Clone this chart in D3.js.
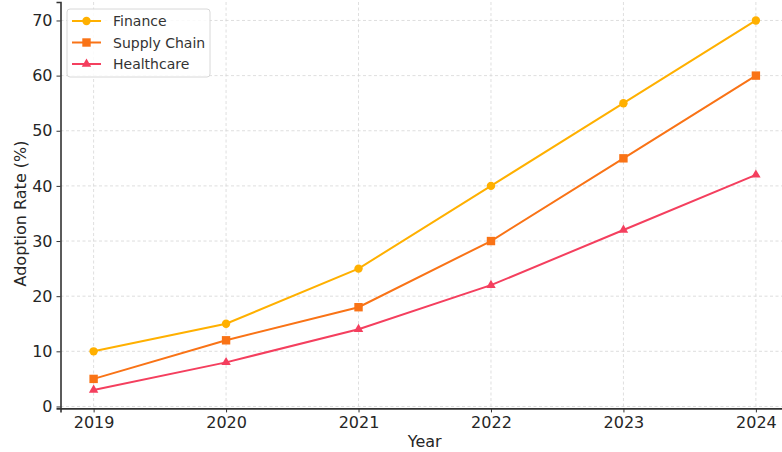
<!DOCTYPE html>
<html>
<head>
<meta charset="utf-8">
<script src="https://cdn.jsdelivr.net/npm/d3@7"></script>
<style>
  html, body { margin: 0; padding: 0; background: #fff; }
  svg { display: block; font-family: "DejaVu Sans", sans-serif; }
</style>
</head>
<body>
<svg id="chart" width="782" height="452"></svg>
<script>
const years = [2019, 2020, 2021, 2022, 2023, 2024];
const finance = [10, 15, 25, 40, 55, 70];
const supplyChain = [5, 12, 18, 30, 45, 60];
const healthcare = [3, 8, 14, 22, 32, 42];
const yTicks = [0, 10, 20, 30, 40, 50, 60, 70];

const series = [
  { name: "Finance", values: finance, color: "#FFB000", marker: "circle" },
  { name: "Supply Chain", values: supplyChain, color: "#F97316", marker: "square" },
  { name: "Healthcare", values: healthcare, color: "#F43F5E", marker: "triangle" }
];

const svg = d3.select("#chart");
const plot = { left: 60.5, right: 789, top: 2, bottom: 408.4 };

const x = d3.scaleLinear().domain([2018.75, 2024.25]).range([plot.left, plot.right]);
const y = d3.scaleLinear().domain([-0.35, 73.35]).range([plot.bottom, plot.top]);

// grid
const grid = svg.append("g");
grid.selectAll("line.v").data(years).join("line")
  .attr("x1", d => x(d)).attr("x2", d => x(d))
  .attr("y1", plot.top).attr("y2", plot.bottom)
  .attr("stroke", "#d6d6d6").attr("stroke-width", 0.8).attr("stroke-dasharray", "3,2.5");
grid.selectAll("line.h").data(yTicks).join("line")
  .attr("x1", plot.left).attr("x2", plot.right)
  .attr("y1", d => y(d)).attr("y2", d => y(d))
  .attr("stroke", "#d6d6d6").attr("stroke-width", 0.8).attr("stroke-dasharray", "3,2.5");

// axes
const xAxis = svg.append("g").attr("transform", `translate(0,${plot.bottom})`)
  .call(d3.axisBottom(x).tickValues(years).tickFormat(d3.format("d")).tickSize(4).tickPadding(4));
const yAxis = svg.append("g").attr("transform", `translate(${plot.left},0)`)
  .call(d3.axisLeft(y).tickValues(yTicks).tickSize(4).tickPadding(4));
[xAxis, yAxis].forEach(a => {
  a.select(".domain").attr("stroke", "#333").attr("stroke-width", 1.6);
  a.selectAll(".tick line").attr("stroke", "#333").attr("stroke-width", 1);
  a.selectAll(".tick text").attr("fill", "#262626").attr("font-size", 16)
    .attr("font-family", "DejaVu Sans, sans-serif");
});

// axis titles
svg.append("text").attr("x", (plot.left + plot.right) / 2).attr("y", 447)
  .attr("text-anchor", "middle").attr("font-size", 16).attr("fill", "#262626").text("Year");
svg.append("text").attr("transform", `translate(26,${y(35)}) rotate(-90)`)
  .attr("text-anchor", "middle").attr("font-size", 16).attr("fill", "#262626").text("Adoption Rate (%)");

function drawMarker(g, type, color, size) {
  if (type === "circle") {
    g.append("circle").attr("r", size).attr("fill", color);
  } else if (type === "square") {
    g.append("rect").attr("x", -size).attr("y", -size).attr("width", 2 * size).attr("height", 2 * size).attr("fill", color);
  } else {
    g.append("path").attr("d", d3.symbol(d3.symbolTriangle, size * size * 2.2)()).attr("fill", color);
  }
}

const line = d3.line().x((d, i) => x(years[i])).y(d => y(d));
series.forEach(s => {
  svg.append("path").datum(s.values).attr("d", line)
    .attr("fill", "none").attr("stroke", s.color).attr("stroke-width", 2);
  s.values.forEach((v, i) => {
    const g = svg.append("g").attr("transform", `translate(${x(years[i])},${y(v)})`);
    drawMarker(g, s.marker, s.color, 4.2);
  });
});

// legend
const leg = svg.append("g").attr("transform", "translate(67,9)");
leg.append("rect").attr("x", 0).attr("y", 0).attr("width", 143).attr("height", 68).attr("rx", 3)
  .attr("fill", "#fff").attr("fill-opacity", 0.85).attr("stroke", "#d8d8d8").attr("stroke-width", 1);
series.forEach((s, i) => {
  const cy = 12 + i * 21.5;
  leg.append("line").attr("x1", 5).attr("x2", 34).attr("y1", cy).attr("y2", cy)
    .attr("stroke", s.color).attr("stroke-width", 2);
  const g = leg.append("g").attr("transform", `translate(19.5,${cy})`);
  drawMarker(g, s.marker, s.color, 4.2);
  leg.append("text").attr("x", 46).attr("y", cy + 5).attr("font-size", 14).attr("fill", "#333").text(s.name);
});
</script>
</body>
</html>
